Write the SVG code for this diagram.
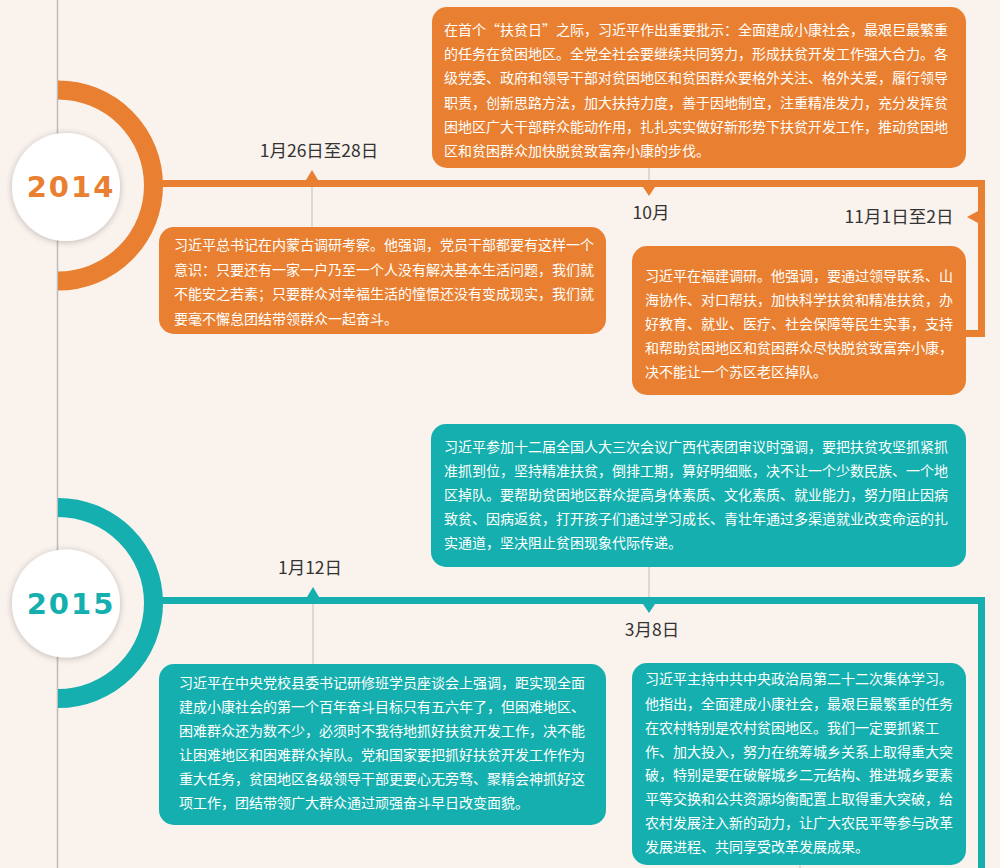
<svg xmlns="http://www.w3.org/2000/svg" width="1000" height="868" viewBox="0 0 1000 868">
<defs>
<style>
.body{font-family:"Noto Sans CJK SC","Noto Sans",sans-serif;font-size:14px;fill:#ffffff;}
.lbl{font-family:"Noto Sans CJK SC","Noto Sans",sans-serif;font-size:17.5px;fill:#333333;text-anchor:middle;}
.year{font-family:"DejaVu Sans",sans-serif;font-weight:bold;font-size:29px;letter-spacing:2px;text-anchor:middle;}
.org{fill:#E97F30;}
.teal{fill:#14AFAE;}
.gline{stroke:#d9d9d9;stroke-width:2;fill:none;}
</style>
<filter id="sh" x="-30%" y="-30%" width="160%" height="160%">
<feGaussianBlur in="SourceAlpha" stdDeviation="3.5"/>
<feOffset dx="0" dy="1" result="b"/>
<feComponentTransfer><feFuncA type="linear" slope="0.25"/></feComponentTransfer>
<feMerge><feMergeNode/><feMergeNode in="SourceGraphic"/></feMerge>
</filter>
</defs>
<rect x="0" y="0" width="1000" height="868" fill="#FAF2ED"/>
<line x1="57.5" y1="0" x2="57.5" y2="868" stroke="#bdbdbd" stroke-width="1.5"/>

<g id="connectors">
<path d="M58,90 A95.5,95.5 0 0 1 58,281" fill="none" stroke="#E97F30" stroke-width="19"/>
<path d="M160,183.5 H981.5 V333.5 H960" fill="none" stroke="#E97F30" stroke-width="7"/>
<polygon points="306,180 318,180 312,170" fill="#E97F30"/>
<polygon points="643,187 655,187 649,196" fill="#E97F30"/>
<polygon points="978,211 978,223 967,217" fill="#E97F30"/>
<line class="gline" x1="312" y1="187" x2="312" y2="227"/>
<line class="gline" x1="649" y1="168" x2="649" y2="180"/>

<path d="M58,507.5 A95.5,95.5 0 0 1 58,698.5" fill="none" stroke="#14AFAE" stroke-width="19"/>
<path d="M160,600.5 H981.5 V868" fill="none" stroke="#14AFAE" stroke-width="7"/>
<polygon points="307,597 319,597 313,587" fill="#14AFAE"/>
<polygon points="643,604 655,604 649,613" fill="#14AFAE"/>
<line class="gline" x1="313" y1="604" x2="313" y2="664"/>
<line class="gline" x1="649" y1="567" x2="649" y2="597"/>
<line class="gline" x1="800" y1="864" x2="800" y2="868"/>
</g>

<g id="year-2014">
<circle cx="66" cy="187" r="54" fill="#ffffff" filter="url(#sh)"/>
<text class="year" x="71" y="197" fill="#E97F30">2014</text>
</g>

<g id="year-2015">
<circle cx="66" cy="603.5" r="54" fill="#ffffff" filter="url(#sh)"/>
<text class="year" x="71" y="614" fill="#14AFAE">2015</text>
</g>

<g id="node-2014-10">
<rect class="org" x="432" y="7" width="534" height="161" rx="15"/>
<text class="body" x="444" y="35">在首个“扶贫日”之际，习近平作出重要批示：全面建成小康社会，最艰巨最繁重</text>
<text class="body" x="444" y="59">的任务在贫困地区。全党全社会要继续共同努力，形成扶贫开发工作强大合力。各</text>
<text class="body" x="444" y="83">级党委、政府和领导干部对贫困地区和贫困群众要格外关注、格外关爱，履行领导</text>
<text class="body" x="444" y="108">职责，创新思路方法，加大扶持力度，善于因地制宜，注重精准发力，充分发挥贫</text>
<text class="body" x="444" y="132">困地区广大干部群众能动作用，扎扎实实做好新形势下扶贫开发工作，推动贫困地</text>
<text class="body" x="444" y="156">区和贫困群众加快脱贫致富奔小康的步伐。</text>
<text class="lbl" x="651" y="219">10月</text>
</g>

<g id="node-2014-0126">
<text class="lbl" x="319" y="157">1月26日至28日</text>
<rect class="org" x="159" y="227" width="447" height="107" rx="15"/>
<text class="body" x="174" y="250">习近平总书记在内蒙古调研考察。他强调，党员干部都要有这样一个</text>
<text class="body" x="174" y="275">意识：只要还有一家一户乃至一个人没有解决基本生活问题，我们就</text>
<text class="body" x="174" y="299">不能安之若素；只要群众对幸福生活的憧憬还没有变成现实，我们就</text>
<text class="body" x="174" y="324">要毫不懈怠团结带领群众一起奋斗。</text>
</g>

<g id="node-2014-1101">
<text class="lbl" x="899" y="223">11月1日至2日</text>
<rect class="org" x="632" y="246" width="334" height="149" rx="15"/>
<text class="body" x="645" y="281">习近平在福建调研。他强调，要通过领导联系、山</text>
<text class="body" x="645" y="305">海协作、对口帮扶，加快科学扶贫和精准扶贫，办</text>
<text class="body" x="645" y="329">好教育、就业、医疗、社会保障等民生实事，支持</text>
<text class="body" x="645" y="353">和帮助贫困地区和贫困群众尽快脱贫致富奔小康，</text>
<text class="body" x="645" y="377">决不能让一个苏区老区掉队。</text>
</g>

<g id="node-2015-0308a">
<rect class="teal" x="431" y="424" width="535" height="143" rx="15"/>
<text class="body" x="444" y="452">习近平参加十二届全国人大三次会议广西代表团审议时强调，要把扶贫攻坚抓紧抓</text>
<text class="body" x="444" y="476">准抓到位，坚持精准扶贫，倒排工期，算好明细账，决不让一个少数民族、一个地</text>
<text class="body" x="444" y="500">区掉队。要帮助贫困地区群众提高身体素质、文化素质、就业能力，努力阻止因病</text>
<text class="body" x="444" y="524">致贫、因病返贫，打开孩子们通过学习成长、青壮年通过多渠道就业改变命运的扎</text>
<text class="body" x="444" y="548">实通道，坚决阻止贫困现象代际传递。</text>
<text class="lbl" x="652" y="636">3月8日</text>
</g>

<g id="node-2015-0112">
<text class="lbl" x="310" y="574">1月12日</text>
<rect class="teal" x="159" y="664" width="447" height="161" rx="15"/>
<text class="body" x="179" y="688">习近平在中央党校县委书记研修班学员座谈会上强调，距实现全面</text>
<text class="body" x="179" y="712">建成小康社会的第一个百年奋斗目标只有五六年了，但困难地区、</text>
<text class="body" x="179" y="736">困难群众还为数不少，必须时不我待地抓好扶贫开发工作，决不能</text>
<text class="body" x="179" y="760">让困难地区和困难群众掉队。党和国家要把抓好扶贫开发工作作为</text>
<text class="body" x="179" y="784">重大任务，贫困地区各级领导干部更要心无旁骛、聚精会神抓好这</text>
<text class="body" x="179" y="808">项工作，团结带领广大群众通过顽强奋斗早日改变面貌。</text>
</g>

<g id="node-2015-0308b">
<rect class="teal" x="632" y="663" width="334" height="202" rx="15"/>
<text class="body" x="645" y="684">习近平主持中共中央政治局第二十二次集体学习。</text>
<text class="body" x="645" y="709">他指出，全面建成小康社会，最艰巨最繁重的任务</text>
<text class="body" x="645" y="733">在农村特别是农村贫困地区。我们一定要抓紧工</text>
<text class="body" x="645" y="757">作、加大投入，努力在统筹城乡关系上取得重大突</text>
<text class="body" x="645" y="780">破，特别是要在破解城乡二元结构、推进城乡要素</text>
<text class="body" x="645" y="804">平等交换和公共资源均衡配置上取得重大突破，给</text>
<text class="body" x="645" y="828">农村发展注入新的动力，让广大农民平等参与改革</text>
<text class="body" x="645" y="852">发展进程、共同享受改革发展成果。</text>
</g>
</svg>
